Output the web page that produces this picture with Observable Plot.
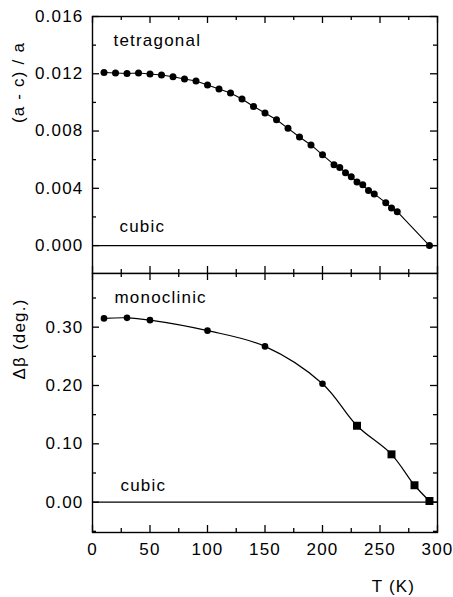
<!DOCTYPE html>
<html><head><meta charset="utf-8">
<script src="https://cdn.jsdelivr.net/npm/d3@7"></script>
<script src="https://cdn.jsdelivr.net/npm/@observablehq/plot@0.6"></script>
<style>
body{margin:0;background:#fff}
#chart{position:relative;width:453px;height:597px;background:#fff}
#chart svg{position:absolute;left:0}
</style></head><body><div id="chart"></div>
<script>
// Upper panel: tetragonal distortion (a - c)/a vs T
const tempTetra = [10,20,30,40,50,60,70,80,90,100,110,120,130,140,150,160,170,180,190,200,210,215,220,225,230,235,240,245,255,260,265,293];
const ratioTetra = [0.01209,0.01205,0.01202,0.01205,0.01198,0.01191,0.01179,0.01163,0.01149,0.01121,0.01093,0.01066,0.01024,0.00972,0.00926,0.00879,0.00819,0.00758,0.00703,0.00634,0.00565,0.00546,0.00509,0.00481,0.00444,0.00424,0.00384,0.00361,0.00300,0.00263,0.00237,0.00000];
// Lower panel: monoclinic angle deviation vs T
const tempMono = [10,30,50,100,150,200,230,260,280,293];
const betaMono = [0.315,0.316,0.312,0.294,0.267,0.203,0.131,0.082,0.029,0.002];
const shapeMono = ["circle","circle","circle","circle","circle","circle","square","square","square","square"];
// Ticks
const xMajor = [0,50,100,150,200,250,300];
const xMinor = [25,75,125,175,225,275];
const yTopMajor = [0,0.004,0.008,0.012,0.016];
const yTopMinor = [0.002,0.006,0.010,0.014];
const yBotMajor = [0,0.1,0.2,0.3];
const yBotMinor = [-0.05,0.05,0.15,0.25,0.35];
// Texts
const topYLabel = "(a - c) / a";
const botYLabel = "Δβ (deg.)";
const xLabel = "T (K)";
const phaseTop = ["tetragonal","cubic"];
const phaseBot = ["monoclinic","cubic"];

const tetra = tempTetra.map((t,i)=>({T:t, v:ratioTetra[i]}));
const mono = tempMono.map((t,i)=>({T:t, v:betaMono[i], s:shapeMono[i]}));

const font = {fontFamily:"'Liberation Sans', Arial, sans-serif", fontSize:"17px", letterSpacing:"1.2px", background:"transparent", color:"#000"};

const W = 453, ML = 92, MR = 16;
const FW = W - ML - MR;

// inward frame ticks drawn as tick marks shortened by insets
function frameTicks(yMaj, yMin, FH){
  const M = 7, m = 4, sw = 1.3;
  const id = d => d;
  return [
    Plot.tickX(xMajor, {x:id, insetBottom:FH - M, strokeWidth:sw}),
    Plot.tickX(xMinor, {x:id, insetBottom:FH - m, strokeWidth:sw}),
    Plot.tickX(xMajor, {x:id, insetTop:FH - M, strokeWidth:sw}),
    Plot.tickX(xMinor, {x:id, insetTop:FH - m, strokeWidth:sw}),
    Plot.tickY(yMaj, {y:id, insetRight:FW - M, strokeWidth:sw}),
    Plot.tickY(yMin, {y:id, insetRight:FW - m, strokeWidth:sw}),
    Plot.tickY(yMaj, {y:id, insetLeft:FW - M, strokeWidth:sw}),
    Plot.tickY(yMin, {y:id, insetLeft:FW - m, strokeWidth:sw})
  ];
}

const topH = 274, topMT = 16, topMB = 1;
const topPanel = Plot.plot({
  width:W, height:topH,
  marginTop:topMT, marginBottom:topMB, marginLeft:ML, marginRight:MR,
  style:font,
  x:{domain:[0,300], label:null},
  y:{domain:[-0.00195,0.016], label:null},
  marks:[
    ...frameTicks(yTopMajor, yTopMinor, topH - topMT - topMB),
    Plot.axisY(yTopMajor, {anchor:"left", label:null, tickSize:0, tickPadding:9, tickFormat:d3.format(".3f")}),
    Plot.ruleY([0], {strokeWidth:1.1}),
    Plot.line(tetra, {x:"T", y:"v", strokeWidth:1.1}),
    Plot.dot(tetra, {x:"T", y:"v", r:3.5, fill:"#000"}),
    Plot.frame({strokeWidth:1.4}),
    Plot.text([phaseTop[0]], {text:d=>d, frameAnchor:"top-left", dx:21, dy:29, textAnchor:"start", lineAnchor:"bottom"}),
    Plot.text([phaseTop[1]], {text:d=>d, frameAnchor:"top-left", dx:27, dy:215, textAnchor:"start", lineAnchor:"bottom"}),
    Plot.text([topYLabel], {text:d=>d, frameAnchor:"top-left", dx:-74, dy:66, rotate:-90, textAnchor:"middle", lineAnchor:"middle"})
  ]
});
topPanel.style.top = "0px";

const botH = 325, botMT = 1, botMB = 65;
const botPanel = Plot.plot({
  width:W, height:botH,
  marginTop:botMT, marginBottom:botMB, marginLeft:ML, marginRight:MR,
  style:font,
  x:{domain:[0,300], label:null},
  y:{domain:[-0.052,0.392], label:null},
  marks:[
    ...frameTicks(yBotMajor, yBotMinor, botH - botMT - botMB),
    Plot.axisY(yBotMajor, {anchor:"left", label:null, tickSize:0, tickPadding:9, tickFormat:d3.format(".2f")}),
    Plot.axisX(xMajor, {anchor:"bottom", label:null, tickSize:0, tickPadding:10}),
    Plot.ruleY([0], {strokeWidth:1.1}),
    Plot.line(mono, {x:"T", y:"v", strokeWidth:1.2, curve:"catmull-rom"}),
    Plot.dot(mono, {filter:d=>d.s==="circle", x:"T", y:"v", r:3.3, fill:"#000"}),
    Plot.dot(mono, {filter:d=>d.s==="square", x:"T", y:"v", r:4.5, symbol:"square", fill:"#000"}),
    Plot.frame({strokeWidth:1.4}),
    Plot.text([phaseBot[0]], {text:d=>d, frameAnchor:"top-left", dx:22, dy:29, textAnchor:"start", lineAnchor:"bottom"}),
    Plot.text([phaseBot[1]], {text:d=>d, frameAnchor:"top-left", dx:28, dy:217, textAnchor:"start", lineAnchor:"bottom"}),
    Plot.text([botYLabel], {text:d=>d, frameAnchor:"top-left", dx:-73, dy:65.5, rotate:-90, textAnchor:"middle", lineAnchor:"middle"}),
    Plot.text([xLabel], {text:d=>d, frameAnchor:"bottom-right", dx:-44, dy:59, textAnchor:"middle", lineAnchor:"bottom"})
  ]
});
botPanel.style.top = "272px";

const c = document.getElementById("chart");
c.appendChild(topPanel);
c.appendChild(botPanel);
</script></body></html>
